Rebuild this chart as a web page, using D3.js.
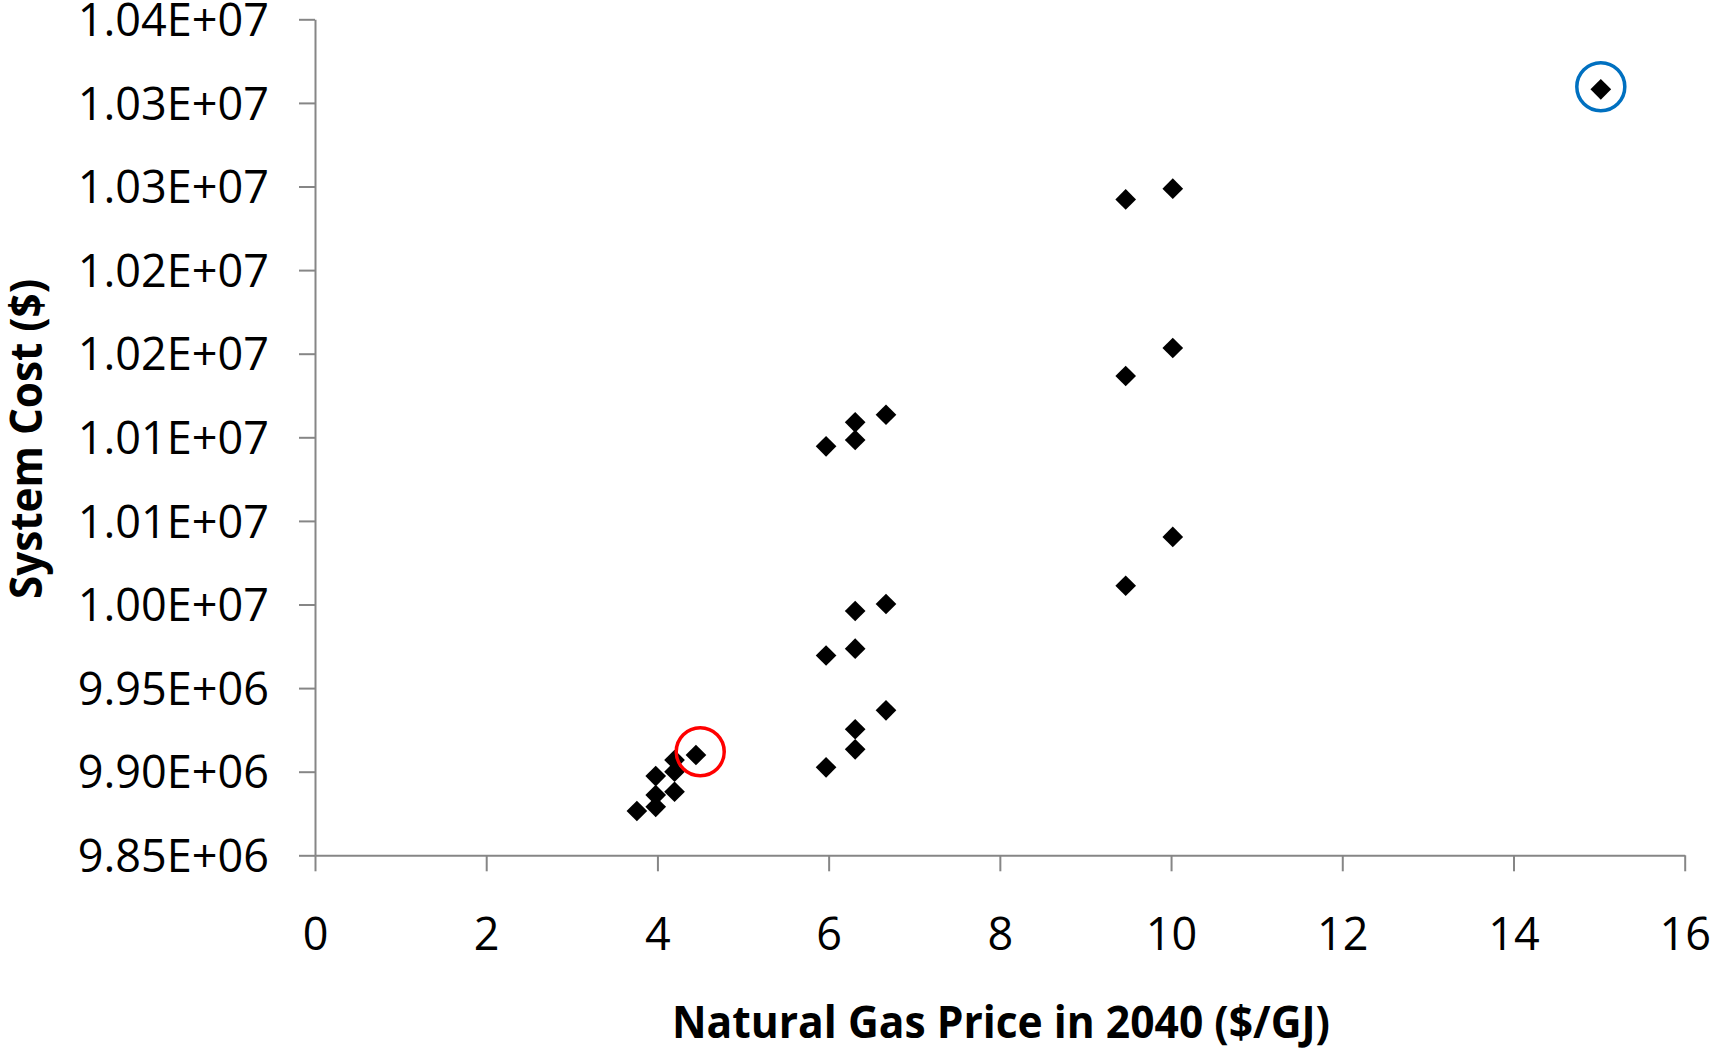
<!DOCTYPE html>
<html>
<head>
<meta charset="utf-8">
<script src="https://cdn.jsdelivr.net/npm/d3@7"></script>
<style>
  html, body { margin: 0; padding: 0; background: #fff; }
  svg { display: block; }
</style>
</head>
<body>
<svg id="chart" width="1713" height="1049"></svg>
<script>
// ---- Data ----
const gasPrice = [
  3.76, 3.98, 3.98, 3.98, 4.20, 4.20, 4.20, 4.45,
  5.97, 5.97, 5.97,
  6.31, 6.31, 6.31, 6.31, 6.31, 6.31,
  6.67, 6.67, 6.67,
  9.47, 9.47, 9.47,
  10.02, 10.02, 10.02,
  15.02
];
const systemCost = [
  9876500, 9879000, 9886000, 9897400, 9888000, 9900000, 9907000, 9910000,
  9902600, 9969500, 10094600,
  9913400, 9925400, 9973600, 9996100, 10098400, 10108950,
  9936700, 10000300, 10113500,
  10011200, 10136670, 10242300,
  10040400, 10153400, 10248700,
  10308100
];
const xTicks = [0, 2, 4, 6, 8, 10, 12, 14, 16];
const xTickLabels = ["0", "2", "4", "6", "8", "10", "12", "14", "16"];
const yTicks = [9850000, 9900000, 9950000, 10000000, 10050000, 10100000,
                10150000, 10200000, 10250000, 10300000, 10350000];
const yTickLabels = ["9.85E+06", "9.90E+06", "9.95E+06", "1.00E+07", "1.01E+07", "1.01E+07",
                     "1.02E+07", "1.02E+07", "1.03E+07", "1.03E+07", "1.04E+07"];
const highlightX = [4.50, 15.02];
const highlightY = [9911960, 10309700];
const highlightColor = ["#FF0000", "#0070C0"];
const xTitle = "Natural Gas Price in 2040 ($/GJ)";
const yTitle = "System Cost ($)";

// ---- Layout ----
const plotLeft = 315, plotRight = 1684.7, plotTop = 19.3, plotBottom = 855.3;
const svg = d3.select("#chart");
const FONT = "'Open Sans', 'Noto Sans', sans-serif";
const axisColor = "#868686";

const x = d3.scaleLinear().domain([0, 16]).range([plotLeft, plotRight]);
const y = d3.scaleLinear().domain([9850000, 10350000]).range([plotBottom, plotTop]);

// Y axis
const yAxis = svg.append("g")
  .attr("transform", `translate(${plotLeft},0)`)
  .call(d3.axisLeft(y).tickValues(yTicks)
    .tickFormat((d, i) => yTickLabels[i])
    .tickSize(16).tickSizeOuter(0).tickPadding(30));
// X axis
const xAxis = svg.append("g")
  .attr("transform", `translate(0,${plotBottom})`)
  .call(d3.axisBottom(x).tickValues(xTicks)
    .tickFormat((d, i) => xTickLabels[i])
    .tickSize(16).tickSizeOuter(0).tickPadding(47));

[xAxis, yAxis].forEach(g => {
  g.select(".domain").attr("stroke", axisColor).attr("stroke-width", 2);
  g.selectAll(".tick line").attr("stroke", axisColor).attr("stroke-width", 2);
  g.selectAll(".tick text")
    .attr("fill", "#000")
    .style("font-family", FONT)
    .style("font-size", "45px");
});
yAxis.selectAll(".tick text").attr("dy", "0.36em");

// Points (diamonds)
const diamond = d3.symbol().type(d3.symbolSquare).size(214);
svg.append("g").selectAll("path")
  .data(gasPrice.map((g, i) => ({ g, c: systemCost[i] })))
  .join("path")
  .attr("d", diamond)
  .attr("fill", "#000")
  .attr("transform", d => `translate(${x(d.g)},${y(d.c)}) rotate(45)`);

// Highlight circles
svg.append("g").selectAll("circle")
  .data(highlightX.map((v, i) => ({ v, c: highlightY[i], col: highlightColor[i] })))
  .join("circle")
  .attr("cx", d => x(d.v))
  .attr("cy", d => y(d.c))
  .attr("r", 24)
  .attr("fill", "none")
  .attr("stroke", d => d.col)
  .attr("stroke-width", 3.5);

// Axis titles
svg.append("text")
  .attr("x", 1001).attr("y", 1038)
  .attr("text-anchor", "middle")
  .attr("textLength", 658).attr("lengthAdjust", "spacingAndGlyphs")
  .style("font-family", FONT).style("font-weight", "bold").style("font-size", "45px")
  .text(xTitle);

svg.append("text")
  .attr("transform", "translate(42,439) rotate(-90)")
  .attr("text-anchor", "middle")
  .attr("textLength", 320).attr("lengthAdjust", "spacingAndGlyphs")
  .style("font-family", FONT).style("font-weight", "bold").style("font-size", "45px")
  .text(yTitle);
</script>
</body>
</html>
